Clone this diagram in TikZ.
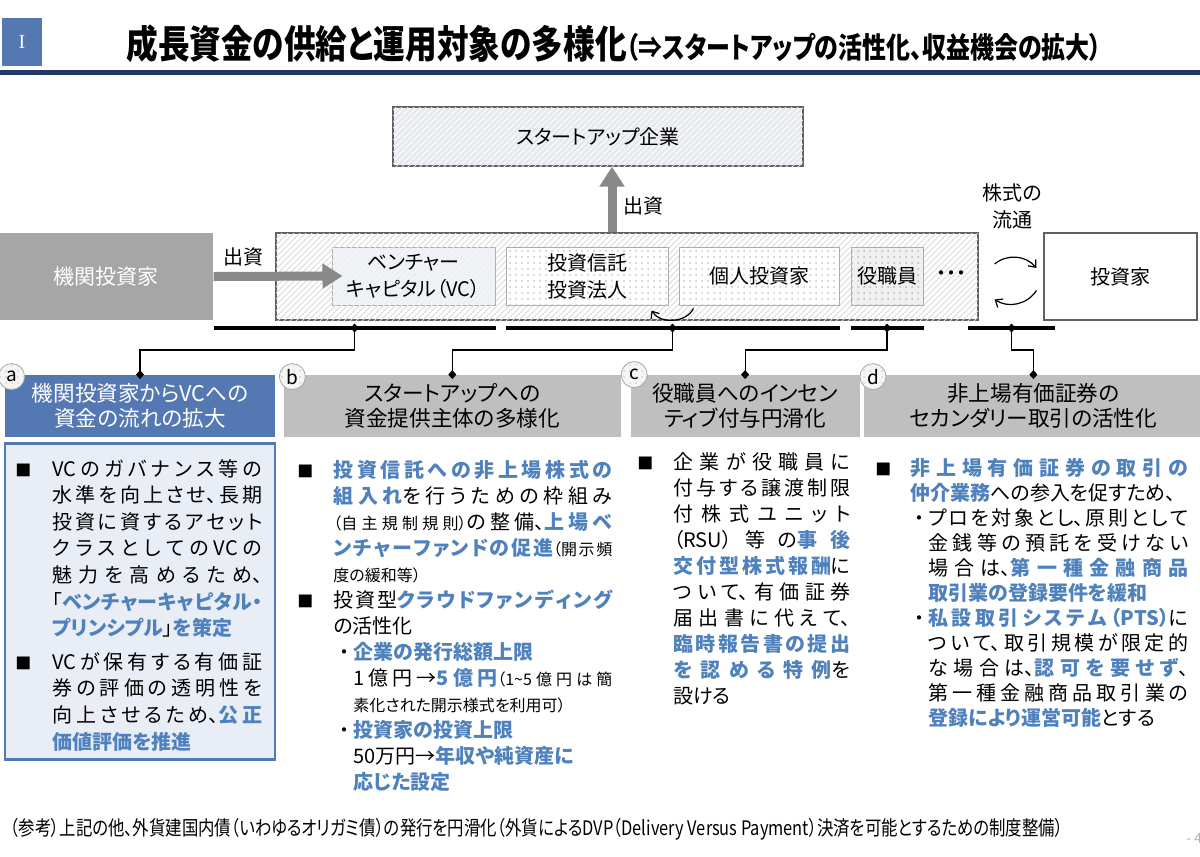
\documentclass[tikz,border=0pt]{standalone}
\usepackage{fontspec}
\setmainfont{Noto Sans CJK JP}[RawFeature=+palt]
\newfontfamily\titrefont{Noto Sans CJK JP}[FakeStretch=0.82, RawFeature=+palt]
\newfontfamily\romfont{Liberation Serif}
\usepackage{tikz}
\usetikzlibrary{positioning, arrows.meta, patterns, calc}

\definecolor{navy}{RGB}{31,56,100}
\definecolor{bleu}{RGB}{84,120,178}
\definecolor{bleutexte}{RGB}{79,129,189}
\definecolor{grisclair}{RGB}{191,191,191}
\definecolor{grisbloc}{RGB}{166,166,166}
\definecolor{grisfleche}{RGB}{137,137,137}
\definecolor{fondbleu}{RGB}{233,238,246}
\definecolor{fondboite}{RGB}{240,243,249}

% coupure japonaise : glue entre caracteres, sans coupure automatique
\XeTeXlinebreaklocale "ja"
\XeTeXlinebreakskip=0pt plus 4pt
\XeTeXlinebreakpenalty=10000

\newcommand{\hl}[1]{\textcolor{bleutexte}{\bfseries #1}}
\newcommand{\petit}[1]{{\fontsize{8}{10}\selectfont #1}}
\newcommand{\carre}[1]{\par\leftskip=#1\relax\noindent\llap{\hbox to #1{\fontsize{8}{9}\selectfont ■\hfil}}}
\newcommand{\puce}[1]{\par\leftskip=#1\relax\noindent\llap{\hbox to 8.5pt{\hss・\hss}}}

\begin{document}
\begin{tikzpicture}[x=0.5pt, y=-0.5pt,
		% Cadres des acteurs (ligne du haut)
		acteur/.style={
			draw=gray!75!black,
			line width=0.6pt,
			minimum height=43.5pt,
			inner sep=0pt,
			align=center,
			font=\fontsize{10}{13.5}\selectfont
		},
		% Sous-blocs dans le grand cadre
		sousbloc/.style={
			draw=gray!65,
			line width=0.5pt,
			minimum height=29pt,
			inner sep=0pt,
			align=center,
			font=\fontsize{10}{13.5}\selectfont
		},
		motifrayures/.style={postaction={pattern=north east lines, pattern color=#1}},
		motifpoints/.style={postaction={pattern=dots, pattern color=#1}},
		% Fleches
		fleche/.style={draw=grisfleche, line width=4.5pt, -{Triangle[length=10pt, width=12pt]}},
		boucle/.style={draw=black, line width=0.6pt, -{Straight Barb[length=3pt, width=5pt]}},
		etiq/.style={font=\fontsize{10}{13.5}\selectfont, align=center, inner sep=0pt},
		% Crochets et liens vers les rubriques
		crochet/.style={line width=2pt, black},
		lien/.style={
			draw=black, line width=0.6pt,
			{Diamond[length=4.5pt, width=4pt]}-{Diamond[length=4.5pt, width=4pt]},
			shorten <=-2.25pt, shorten >=-2.25pt
		},
		entete/.style={
			fill=#1,
			minimum height=31pt,
			inner sep=0pt,
			align=center,
			font=\fontsize{10.8}{12.5}\selectfont
		},
		rond/.style={
			circle, draw=gray!70, fill=gray!8, motifpoints=gray!35,
			minimum size=13pt, inner sep=0pt,
			font=\fontsize{9.5}{10}\selectfont
		},
		corps/.style={
			anchor=north west,
			inner sep=0pt,
			align=justify,
			font=\fontsize{10}{13}\selectfont
		}
		]
		\useasboundingbox (0,0) rectangle (1200,857);
		
		% --- TITRE ---
		\node[fill=bleu, minimum width=20pt, minimum height=24pt, inner sep=0pt, text=white, font=\romfont\fontsize{10}{12}\selectfont] (badge) at (22,42) {I};
		\node[anchor=base west, inner sep=0pt, font=\titrefont\bfseries] (titre) at (126,58) {{\fontsize{19.3}{21}\selectfont 成長資金の供給と運用対象の多様化}{\fontsize{14.6}{16}\selectfont （⇒スタートアップの活性化、収益機会の拡大）}};
		\draw[navy, line width=2.5pt] (0,72) -- (1200,72);
		
		% --- BLOCS DU HAUT ---
		\node[acteur, fill=fondboite, motifrayures=gray!25, minimum width=205pt, minimum height=29.5pt] (su) at (598,136.5) {スタートアップ企業};
		\node[acteur, draw=none, fill=grisbloc, text=white, minimum width=106.5pt, font=\fontsize{10.5}{13}\selectfont] (inst) at (106.5,276.5) {機関投資家};
		\node[acteur, fill=white, motifrayures=gray!30, minimum width=351pt] (cont) at (627,276.5) {};
		\node[sousbloc, fill=fondboite, motifrayures=gray!15, minimum width=81.5pt] (vc) at (413.5,276) {ベンチャー\\キャピタル（VC）};
		\node[sousbloc, fill=white, motifpoints=gray!45, minimum width=81pt] (tru) at (587,276) {投資信託\\投資法人};
		\node[sousbloc, fill=white, motifpoints=gray!45, minimum width=80pt] (kojin) at (759,276) {個人投資家};
		\node[sousbloc, fill=gray!12, motifpoints=gray!55, minimum width=36pt] (yaku) at (887,276) {役職員};
		\node[etiq] (suite) at (951,276) {・・・};
		\node[acteur, fill=white, minimum width=76.5pt] (inv) at (1120.5,276.5) {投資家};
		
		% --- ÉTIQUETTES ---
		\node[etiq] (l1) at (243,257) {出資};
		\node[etiq] (l2) at (643,206) {出資};
		\node[etiq] (l3) at (1012,206) {株式の\\流通};
		
		% --- FLÈCHES ---
		\draw[fleche] (inst.east) -- ([xshift=5.5pt]vc.west);
		\draw[fleche] (cont.north -| 612,0) -- (su.south -| 612,0);
		\draw[boucle] ([xshift=8pt, yshift=6.25pt]cont.east) to[bend left=45] ([xshift=-3.5pt, yshift=4.25pt]inv.west);
		\draw[boucle] ([xshift=-3.5pt, yshift=-7pt]inv.west) to[bend left=45] ([xshift=8pt, yshift=-11.5pt]cont.east);
		\draw[boucle] ([xshift=7.5pt, yshift=-1.5pt]kojin.south west) to[bend left=60] ([xshift=-8.5pt, yshift=-2.5pt]tru.south east);
		
		% --- CROCHETS ---
		\coordinate (ybr) at (0,328);
		\coordinate (j1) at ($(inst.east |- ybr)!0.5!(vc.east |- ybr)$);
		\coordinate (j2) at ($(tru.west |- ybr)!0.5!(kojin.east |- ybr)$);
		\coordinate (j3) at (yaku.south |- ybr);
		\coordinate (b4a) at ($(cont.east |- ybr)+(-11,0)$);
		\coordinate (b4b) at ($(inv.west |- ybr)+(12,0)$);
		\coordinate (j4) at ($(b4a)!0.5!(b4b)$);
		\draw[crochet] (inst.east |- ybr) -- (vc.east |- ybr);
		\draw[crochet] (tru.west |- ybr) -- (kojin.east |- ybr);
		\draw[crochet] (yaku.west |- ybr) -- (yaku.east |- ybr);
		\draw[crochet] (b4a) -- (b4b);
		
		% --- RUBRIQUES a b c d ---
		\node[entete=bleu, text=white, minimum width=135pt] (ha) at (140,406) {機関投資家からVCへの\\資金の流れの拡大};
		\node[entete=grisclair, minimum width=168.5pt, right=4pt of ha] (hb) {スタートアップへの\\資金提供主体の多様化};
		\node[entete=grisclair, minimum width=114.5pt, right=4.5pt of hb] (hc) {役職員へのインセン\\ティブ付与円滑化};
		\node[entete=grisclair, minimum width=169pt, right=2pt of hc] (hd) {非上場有価証券の\\セカンダリー取引の活性化};
		
		\draw[lien] (j1) -- ++(0,22) -| (ha.north);
		\draw[lien] (j2) -- ++(0,22) -| (hb.north);
		\draw[lien] (j3) -- ++(0,22) -| (hc.north);
		\draw[lien] (j4) -- ++(0,22) -| (hd.north);
		
		\node[rond] (ra) at ($(ha.north west)+(7,2)$) {a};
		\node[rond] (rb) at ($(hb.north west)+(9,2)$) {b};
		\node[rond] (rc) at ($(hc.north west)+(4,0)$) {c};
		\node[rond] (rd) at ($(hd.north west)+(9,2)$) {d};
		
		% --- TEXTES DES RUBRIQUES ---
		\node[draw=bleu, line width=1.2pt, fill=fondbleu, minimum width=135pt, minimum height=158pt, below=2.5pt of ha] (boxa) {};
		
		\node[corps, text width=123.5pt, font=\fontsize{10}{13.3}\selectfont] (ta) at (15,442) {\parskip=3.5pt
			\carre{18.5pt}VCのガバナンス等の\linebreak
			水準を向上させ、長期\linebreak
			投資に資するアセット\linebreak
			クラスとしてのVCの\linebreak
			魅力を高めるため、\linebreak
			「\hl{ベンチャーキャピタル・}\linebreak
			\hl{プリンシプル}」\hl{を策定}
			\carre{18.5pt}VCが保有する有価証\linebreak
			券の評価の透明性を\linebreak
			向上させるため、\hl{公正}\linebreak
			\hl{価値評価を推進}\par};
		
		\node[corps, text width=157.5pt] (tb) at (297,451) {\parskip=0pt
			\carre{18pt}\hl{投資信託への非上場株式の}\linebreak
			\hl{組入れ}を行うための枠組み\linebreak
			\petit{（自主規制規則）}の整備、\hl{上場ベ}\linebreak
			\hl{ンチャーファンドの促進}\petit{（開示頻}\linebreak
			\petit{度の緩和等）}
			\carre{18pt}投資型\hl{クラウドファンディング}\linebreak
			の活性化
			\puce{28pt}\hl{企業の発行総額上限}\newline
			1億円→\hl{5億円}\petit{（1\textasciitilde 5億円は簡}\linebreak
			\petit{素化された開示様式を利用可）}
			\puce{28pt}\hl{投資家の投資上限}\newline
			50万円→\hl{年収や純資産に}\newline
			\hl{応じた設定}\par};
		
		\node[corps, text width=106.5pt] (tc) at (637,443) {\parskip=0pt
			\carre{18pt}企業が役職員に\linebreak
			付与する譲渡制限\linebreak
			付株式ユニット\linebreak
			（RSU）等の\hl{事後}\linebreak
			\hl{交付型株式報酬}に\linebreak
			ついて、有価証券\linebreak
			届出書に代えて、\linebreak
			\hl{臨時報告書の提出}\linebreak
			\hl{を認める特例}を\linebreak
			設ける\par};
		
		\node[corps, text width=156.5pt, font=\fontsize{10}{12.5}\selectfont] (td) at (875,450) {\parskip=0pt
			\carre{17.5pt}\hl{非上場有価証券の取引の}\linebreak
			\hl{仲介業務}への参入を促すため、
			\puce{26.5pt}プロを対象とし、原則として\linebreak
			金銭等の預託を受けない\linebreak
			場合は、\hl{第一種金融商品}\linebreak
			\hl{取引業の登録要件を緩和}
			\puce{26.5pt}\hl{私設取引システム（PTS）}に\linebreak
			ついて、取引規模が限定的\linebreak
			な場合は、\hl{認可を要せず}、\linebreak
			第一種金融商品取引業の\linebreak
			\hl{登録により運営可能}とする\par};
		
		% --- NOTE DE BAS DE PAGE ---
		\node[anchor=west, inner sep=0pt, font=\titrefont\fontsize{10}{12}\selectfont] (note) at (10,829) {（参考）上記の他、外貨建国内債（いわゆるオリガミ債）の発行を円滑化（外貨によるDVP（Delivery Versus Payment）決済を可能とするための制度整備）};
		\node[anchor=west, inner sep=0pt, text=gray!60, font=\fontsize{7}{8}\selectfont] (page) at (1186,838) {- 4};
		
	\end{tikzpicture}
\end{document}
